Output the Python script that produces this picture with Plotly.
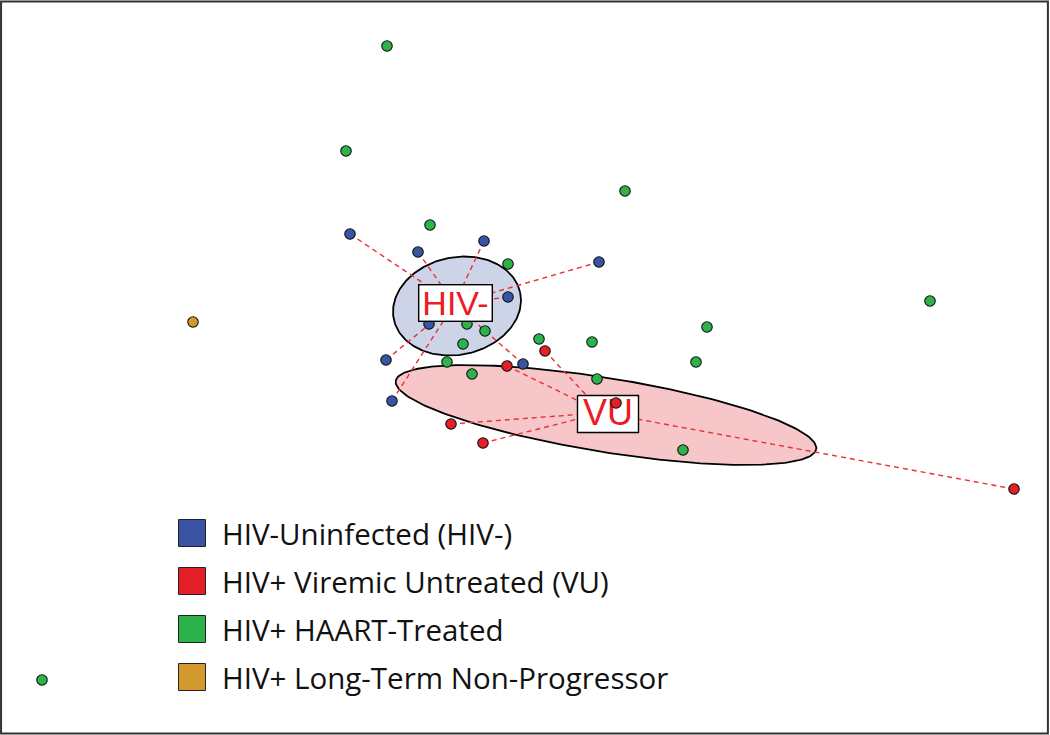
import numpy as np
import plotly.graph_objects as go

# ---------------- data (ordination coordinates) ----------------
group_names = ["HIV-Uninfected (HIV-)", "HIV+ Viremic Untreated (VU)",
               "HIV+ HAART-Treated", "HIV+ Long-Term Non-Progressor"]
group_colors = ["#3a54a4", "#e41f28", "#2db34a", "#d4992c"]

hivneg_x = [350, 418, 484, 599, 508, 429, 386, 392, 523]
hivneg_y = [234, 252, 241, 262, 297, 324, 360, 401, 364]

vu_x = [545, 507, 616, 451, 483, 1014]
vu_y = [351, 366, 403, 424, 443, 489]

haart_x = [387, 346, 625, 430, 508, 930, 707, 592, 539, 696, 597, 467, 485, 463, 447, 472, 683, 42]
haart_y = [46, 151, 191, 225, 264, 301, 327, 342, 339, 362, 379, 324, 331, 344, 362, 374, 450, 680]

ltnp_x = [193]
ltnp_y = [322]

# dispersion ellipses: centre x, centre y, semi-major, semi-minor, angle (deg)
hivneg_ellipse = [457, 306, 64.6, 48.7, -12.0]
vu_ellipse = [606, 415, 213.0, 37.0, 9.2]

ellipse_fills = ["#cdd4e7", "#f7c6c9"]
group_labels = ["HIV-", "VU"]

W, H = 1050, 735


def ellipse_xy(p, n=240):
    cx, cy, a, b, ang = p
    t = np.linspace(0, 2 * np.pi, n)
    th = np.deg2rad(ang)
    ex = cx + a * np.cos(t) * np.cos(th) - b * np.sin(t) * np.sin(th)
    ey = cy + a * np.cos(t) * np.sin(th) + b * np.sin(t) * np.cos(th)
    return ex, ey


def spider(xs, ys):
    cx, cy = float(np.mean(xs)), float(np.mean(ys))
    lx, ly = [], []
    for x, y in zip(xs, ys):
        lx += [x, cx, None]
        ly += [y, cy, None]
    return lx, ly


fig = go.Figure()

# ellipses
for p, fc in zip([hivneg_ellipse, vu_ellipse], ellipse_fills):
    ex, ey = ellipse_xy(p)
    fig.add_trace(go.Scatter(x=ex, y=ey, mode="lines", fill="toself", fillcolor=fc,
                             line=dict(color="black", width=1.8), hoverinfo="skip",
                             showlegend=False))

# spider lines
sx1, sy1 = spider(hivneg_x, hivneg_y)
sx2, sy2 = spider(vu_x, vu_y)
fig.add_trace(go.Scatter(x=sx1 + sx2, y=sy1 + sy2, mode="lines",
                         line=dict(color="#ee2d36", width=1.4, dash="5px,4px"),
                         hoverinfo="skip", showlegend=False))

# VU label box (drawn beneath the points), placed at the ellipse centre
c2x, c2y = vu_ellipse[0] + 2, vu_ellipse[1] - 1
bw, bh = 61, 37
fig.add_trace(go.Scatter(x=[c2x - bw / 2, c2x + bw / 2, c2x + bw / 2, c2x - bw / 2, c2x - bw / 2],
                         y=[c2y - bh / 2, c2y - bh / 2, c2y + bh / 2, c2y + bh / 2, c2y - bh / 2],
                         mode="lines", fill="toself", fillcolor="white",
                         line=dict(color="black", width=1.4), hoverinfo="skip", showlegend=False))
fig.add_trace(go.Scatter(x=[c2x], y=[c2y + 2], mode="text", text=[group_labels[1]],
                         textfont=dict(family="Liberation Sans", size=36, color="#ec1c24"),
                         hoverinfo="skip", showlegend=False))

# points
for xs, ys, col, name in zip([hivneg_x, vu_x, haart_x, ltnp_x],
                             [hivneg_y, vu_y, haart_y, ltnp_y],
                             group_colors, group_names):
    fig.add_trace(go.Scatter(x=xs, y=ys, mode="markers", name=name,
                             marker=dict(size=10.5, color=col, line=dict(color="#111111", width=1.1)),
                             showlegend=False))

# HIV- label box (above the points)
c1x, c1y = hivneg_ellipse[0] - 2, hivneg_ellipse[1] - 3
fig.add_annotation(x=c1x, y=c1y, text=group_labels[0], showarrow=False,
                   font=dict(family="Liberation Sans", size=34, color="#ec1c24"),
                   bgcolor="white", bordercolor="black", borderwidth=1.4,
                   width=72, height=35, borderpad=0)

# manual legend
leg_x0, leg_y0, leg_dy = 192, 533, 48
leg_ys = [leg_y0 + i * leg_dy for i in range(len(group_names))]
fig.add_trace(go.Scatter(x=[leg_x0] * len(group_names), y=leg_ys, mode="markers",
                         marker=dict(symbol="square", size=27, color=group_colors,
                                     line=dict(color="#222222", width=1)),
                         hoverinfo="skip", showlegend=False))
for name, yy in zip(group_names, leg_ys):
    fig.add_annotation(x=leg_x0 + 28, y=yy, text=name, showarrow=False, xanchor="left",
                       yanchor="middle", font=dict(family="Open Sans", size=29.5, color="#111111"))

# outer frame
fig.add_shape(type="rect", xref="paper", yref="paper", x0=0.001, y0=0.002, x1=0.998, y1=0.998,
              line=dict(color="#333333", width=2))

fig.update_xaxes(range=[0, W], visible=False, fixedrange=True)
fig.update_yaxes(range=[H, 0], visible=False, fixedrange=True)
fig.update_layout(width=W, height=H, margin=dict(l=0, r=0, t=0, b=0),
                  paper_bgcolor="white", plot_bgcolor="white", showlegend=False)

fig.write_html("out.html", config={"displayModeBar": False},
               post_script="document.body.style.margin='0';document.body.style.overflow='hidden';")
